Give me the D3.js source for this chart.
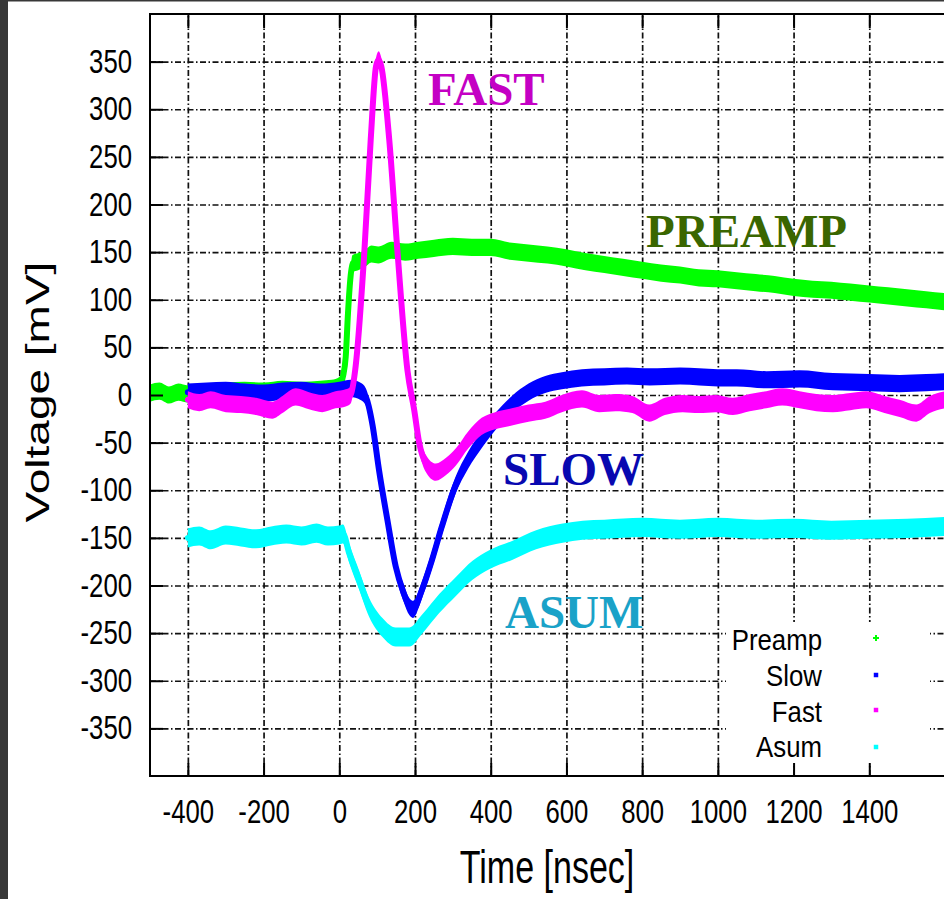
<!DOCTYPE html>
<html>
<head>
<meta charset="utf-8">
<script src="https://cdn.jsdelivr.net/npm/d3@7"></script>
<style>
  body { margin: 0; background: #fff; }
  svg { display: block; }
</style>
</head>
<body>
<svg id="chart"></svg>
<script>
let width = 944;
let height = 899;

// tick values
let xTicks = [-400, -200, 0, 200, 400, 600, 800, 1000, 1200, 1400];
let yTicks = [-350, -300, -250, -200, -150, -100, -50, 0, 50, 100, 150, 200, 250, 300, 350];

// series (time in ns, voltage in mV)
let preampTime = [-500, -475, -450, -425, -400, -350, -300, -250, -200, -150, -100, -50, -20, 0, 10, 17, 23, 29, 35, 50, 67, 85, 103, 138, 174, 209, 250, 300, 350, 400, 450, 500, 550, 600, 650, 700, 750, 800, 850, 900, 950, 1000, 1050, 1100, 1150, 1200, 1250, 1300, 1350, 1400, 1450, 1500, 1550, 1600];
let preampVolt = [2, 4, 0, 3, 1, 3, 4, 5, 4, 6, 5, 6, 7, 10, 20, 40, 86, 121, 138, 140, 143, 148, 147, 152, 150, 152, 154, 156, 155, 155, 151, 149, 147, 144, 140, 137, 134, 131, 128, 126, 123, 122, 120, 118, 116, 113, 111, 110, 108, 106, 104, 102, 100, 98];

let slowTime = [-400, -350, -300, -250, -200, -150, -100, -50, 0, 30, 55, 70, 88, 105, 127, 149, 170, 185, 195, 218, 245, 271, 306, 341, 376, 412, 456, 500, 544, 588, 641, 700, 760, 820, 900, 951, 1000, 1050, 1128, 1216, 1304, 1400, 1480, 1550, 1600];
let slowVolt = [3, 4, 5, 3, 2, 4, 5, 3, 5, 7, 4, -2, -32, -79, -131, -180, -208, -222, -225, -205, -173, -138, -96, -68, -47, -28, -10, 3, 11, 15, 18, 19, 20, 19, 20, 19, 18, 18, 16, 17, 14, 13, 12, 13, 14];

let fastTime = [-400, -370, -340, -300, -260, -220, -177, -150, -115, -80, -45, -10, 17, 30, 42, 66, 83, 97, 104, 111, 132, 154, 180, 198, 211, 229, 255, 282, 308, 341, 376, 412, 456, 500, 544, 588, 641, 687, 730, 774, 819, 860, 907, 950, 995, 1040, 1084, 1128, 1170, 1216, 1260, 1304, 1350, 1392, 1440, 1480, 1524, 1560, 1600];
let fastVolt = [-5, -8, -5, -9, -10, -12, -16, -10, -2, -6, -9, -5, -3, 0, 26, 149, 268, 345, 352, 345, 268, 149, 26, -16, -50, -72, -81, -75, -65, -47, -33, -27, -23, -19, -16, -9, -4, -9, -8, -10, -19, -12, -9, -10, -9, -12, -8, -5, -2, -5, -8, -9, -7, -5, -10, -14, -19, -10, -5];

let asumTime = [-400, -370, -340, -300, -260, -220, -180, -140, -100, -60, -30, 0, 10, 26, 53, 79, 114, 149, 185, 220, 264, 308, 352, 396, 458, 520, 590, 643, 700, 800, 900, 1000, 1100, 1200, 1300, 1400, 1500, 1600];
let asumVolt = [-150, -148, -152, -147, -149, -151, -148, -146, -148, -145, -148, -147, -146, -166, -195, -223, -244, -254, -254, -240, -219, -201, -184, -173, -163, -152, -145, -142, -141, -139, -141, -139, -141, -140, -142, -141, -140, -138];

let seriesNames = ['Preamp', 'Slow', 'Fast', 'Asum'];
let seriesColors = ['#00ff00', '#0000ff', '#ff00ff', '#00ffff'];

let plotLeft = 150, plotRight = 945, plotTop = 14, plotBottom = 776;

let svg = d3.select('#chart')
  .attr('width', width)
  .attr('height', height);

svg.append('rect').attr('width', width).attr('height', height).attr('fill', '#fff');
svg.append('rect').attr('x', 0).attr('y', 0).attr('width', 8).attr('height', height).attr('fill', '#383838');
svg.append('rect').attr('x', 0).attr('y', 0).attr('width', width).attr('height', 1.5).attr('fill', '#383838');

let xScale = d3.scaleLinear().domain([-500, 1600]).range([plotLeft, plotRight]);
let yScale = d3.scaleLinear().domain([-400, 400]).range([plotBottom, plotTop]);

let plotW = plotRight - plotLeft;
let plotH = plotBottom - plotTop;
let plainNum = d => String(d);

// dash-dot grid
let grid = svg.append('g').attr('class', 'grid');
grid.append('g')
    .attr('transform', `translate(${plotLeft},0)`)
  .call(d3.axisLeft(yScale).tickValues(yTicks).tickSize(-plotW).tickFormat(''));
grid.append('g')
    .attr('transform', `translate(0,${plotBottom})`)
  .call(d3.axisBottom(xScale).tickValues(xTicks).tickSize(-plotH).tickFormat(''));
grid.selectAll('.domain').remove();
grid.selectAll('line')
  .attr('stroke', '#111')
  .attr('stroke-width', 1.7)
  .attr('stroke-dasharray', '6,2.5,1.5,2.5');

// legend box blanks the grid behind it
svg.append('rect')
  .attr('x', 726).attr('y', 622).attr('width', 204).attr('height', 142)
  .attr('fill', '#fff');

// traces
let traces = [
  {t: preampTime, v: preampVolt, h: 9},
  {t: slowTime, v: slowVolt, h: 9},
  {t: fastTime, v: fastVolt, h: 9},
  {t: asumTime, v: asumVolt, h: 10}
];

let plot = svg.append('g');
plot.append('clipPath').attr('id', 'clip')
  .append('rect').attr('x', plotLeft).attr('y', plotTop).attr('width', plotW).attr('height', plotH);
let traceG = plot.append('g').attr('clip-path', 'url(#clip)');

traces.forEach((s, i) => {
  let pts = s.t.map((t, j) => ({t: t, v: s.v[j]}));
  let band = d3.area()
    .x(d => xScale(d.t))
    .y0(d => yScale(d.v - s.h))
    .y1(d => yScale(d.v + s.h))
    .curve(d3.curveMonotoneX);
  let line = d3.line()
    .x(d => xScale(d.t))
    .y(d => yScale(d.v))
    .curve(d3.curveMonotoneX);
  traceG.append('path')
    .attr('d', band(pts))
    .attr('fill', seriesColors[i]);
  traceG.append('path')
    .attr('d', line(pts))
    .attr('fill', 'none')
    .attr('stroke', seriesColors[i])
    .attr('stroke-width', 6)
    .attr('stroke-linejoin', 'round')
    .attr('stroke-linecap', 'round');
});

// solid inward ticks + labels
let tickFont = 'Liberation Sans, Arial, sans-serif';

let yAxis = svg.append('g')
    .attr('transform', `translate(${plotLeft},0)`)
  .call(d3.axisLeft(yScale).tickValues(yTicks).tickFormat(plainNum).tickSize(-13).tickPadding(0));
yAxis.selectAll('text')
  .attr('x', null)
  .attr('transform', 'translate(-18,0) scale(0.78,1)')
  .attr('font-family', tickFont)
  .attr('font-size', 33)
  .attr('fill', '#000');

let xAxis = svg.append('g')
    .attr('transform', `translate(0,${plotBottom})`)
  .call(d3.axisBottom(xScale).tickValues(xTicks).tickFormat(plainNum).tickSize(-13).tickPadding(0));
xAxis.selectAll('text')
  .attr('y', null)
  .attr('transform', 'translate(0,24) scale(0.78,1)')
  .attr('font-family', tickFont)
  .attr('font-size', 33)
  .attr('fill', '#000');

let topAxis = svg.append('g')
    .attr('transform', `translate(0,${plotTop})`)
  .call(d3.axisTop(xScale).tickValues(xTicks).tickSize(-14).tickFormat(''));

[yAxis, xAxis, topAxis].forEach(a => {
  a.selectAll('.domain').remove();
  a.selectAll('line').attr('stroke', '#000').attr('stroke-width', 2);
});

// frame
svg.append('rect')
  .attr('x', plotLeft).attr('y', plotTop).attr('width', plotW).attr('height', plotH)
  .attr('fill', 'none').attr('stroke', '#000').attr('stroke-width', 2);

// axis titles
svg.append('text')
  .attr('transform', 'translate(49,392) scale(0.74,1) rotate(-90)')
  .attr('text-anchor', 'middle')
  .attr('font-family', tickFont)
  .attr('font-size', 46)
  .text('Voltage [mV]');

svg.append('text')
  .attr('transform', 'translate(547,883) scale(0.74,1)')
  .attr('text-anchor', 'middle')
  .attr('font-family', tickFont)
  .attr('font-size', 46)
  .text('Time [nsec]');

// legend
let legendBase = [650, 685.5, 721.5, 757];
let legendDotY = [638, 675, 710, 747];
let legend = svg.append('g');
seriesNames.forEach((name, i) => {
  legend.append('text')
    .attr('transform', `translate(822,${legendBase[i]}) scale(0.86,1)`)
    .attr('text-anchor', 'end')
    .attr('font-family', tickFont)
    .attr('font-size', 30)
    .text(name);
  legend.append('path')
    .attr('d', d3.symbol(i === 0 ? d3.symbolCross : d3.symbolSquare, 20)())
    .attr('transform', `translate(876,${legendDotY[i]})`)
    .attr('fill', seriesColors[i]);
});

// big labels on the traces
let labels = [
  {text: 'FAST', x: 428, y: 105, color: '#c400c4'},
  {text: 'PREAMP', x: 646, y: 247, color: '#3a6600'},
  {text: 'SLOW', x: 503, y: 485, color: '#0808b0'},
  {text: 'ASUM', x: 505, y: 628, color: '#1aa2c8'}
];
labels.forEach(l => {
  svg.append('text')
    .attr('x', l.x).attr('y', l.y)
    .attr('font-family', 'Liberation Serif, Times New Roman, serif')
    .attr('font-weight', 'bold')
    .attr('font-size', 47)
    .attr('fill', l.color)
    .text(l.text);
});
</script>
</body>
</html>
